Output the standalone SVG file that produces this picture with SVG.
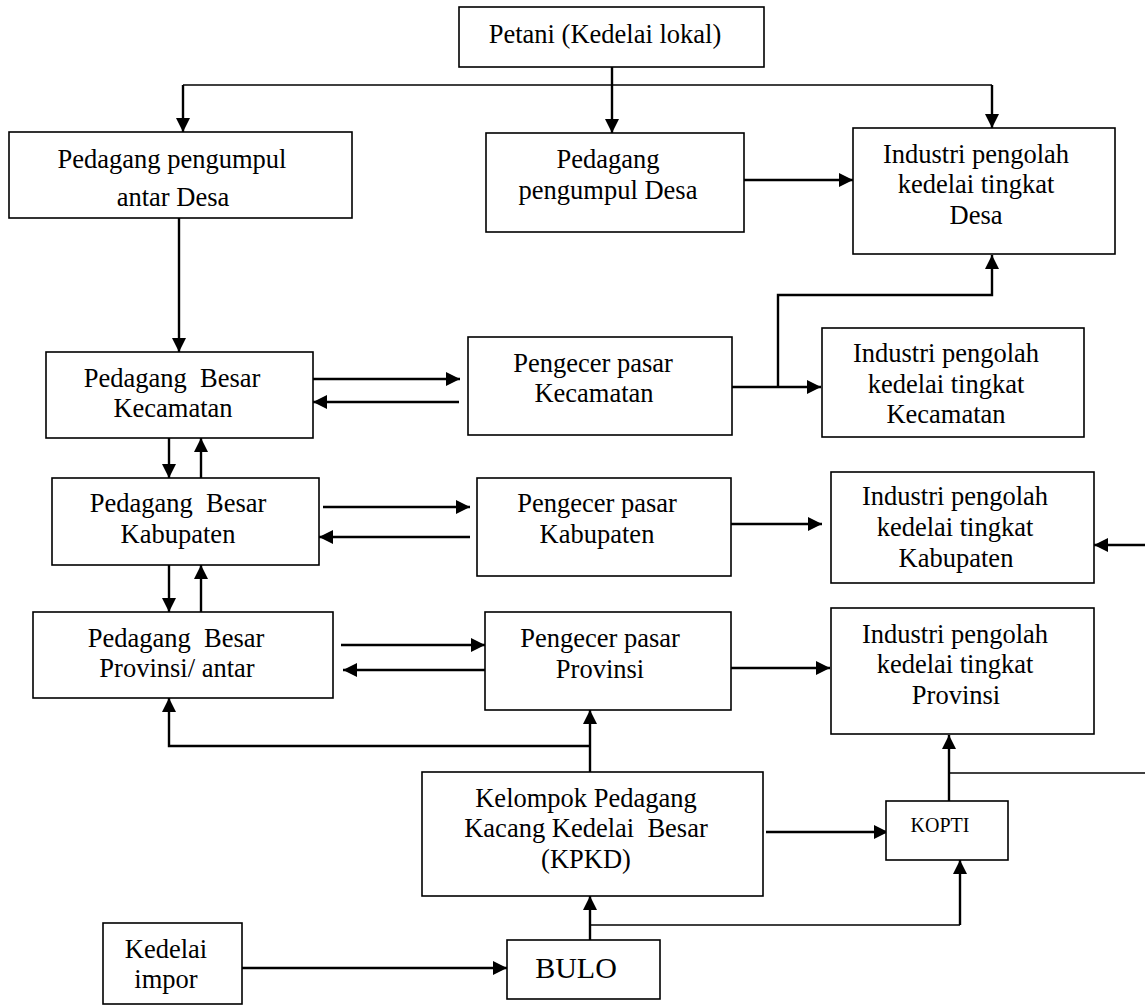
<svg xmlns="http://www.w3.org/2000/svg" width="1145" height="1005" viewBox="0 0 1145 1005">
<style>
.box{fill:#fff;stroke:#000;stroke-width:1.6}
.t{font-family:"Liberation Serif","Times New Roman",serif;font-size:26.5px;fill:#000;text-anchor:middle;white-space:pre}
.c{fill:none;stroke:#000;stroke-width:2.4}
.c1{fill:none;stroke:#000;stroke-width:1.7}
.a{marker-end:url(#ah)}
</style>
<defs>
<marker id="ah" markerUnits="userSpaceOnUse" markerWidth="15" markerHeight="14" refX="14" refY="7" orient="auto" viewBox="0 0 15 14">
<path d="M0,0 L14,7 L0,14 z" fill="#000"/>
</marker>
</defs>
<rect width="1145" height="1005" fill="#fff"/>
<g id="connectors">
<path class="c a" d="M612,62 V133"/>
<path class="c1" d="M183,85 H992"/>
<path class="c a" d="M183,85 V132"/>
<path class="c a" d="M992,85 V128"/>
<path class="c a" d="M744,180 H853"/>
<path class="c a" d="M179,218 V352"/>
<path class="c a" d="M313,379 H460"/>
<path class="c a" d="M459,402 H313"/>
<path class="c a" d="M732,387 H821"/>
<path class="c a" d="M778,387 V295 H992 V255"/>
<path class="c a" d="M169,438 V478"/>
<path class="c a" d="M201,478 V438"/>
<path class="c a" d="M323,507 H470"/>
<path class="c a" d="M470,537 H319"/>
<path class="c a" d="M731,524 H822"/>
<path class="c a" d="M1145,545 H1094"/>
<path class="c a" d="M169,562 V612"/>
<path class="c a" d="M201,612 V565"/>
<path class="c a" d="M341,645 H485"/>
<path class="c a" d="M485,670 H343"/>
<path class="c a" d="M731,668 H830"/>
<path class="c a" d="M590,772 V710"/>
<path class="c a" d="M590,746 H169 V698"/>
<path class="c a" d="M766,832 H888"/>
<path class="c a" d="M949,801 V735"/>
<path class="c1" d="M949,773 H1145"/>
<path class="c a" d="M590,940 V896"/>
<path class="c1" d="M590,925 H960"/>
<path class="c a" d="M960,925 V860"/>
<path class="c a" d="M242,968 H507"/>
</g>
<g id="petani">
<rect class="box" x="459" y="7" width="305" height="60"/>
<text class="t" x="605" y="43">Petani (Kedelai lokal)</text>
</g>
<g id="pengumpul-antar-desa">
<rect class="box" x="9" y="132" width="343" height="86"/>
<text class="t" x="172" y="168">Pedagang pengumpul</text>
<text class="t" x="173" y="206">antar Desa</text>
</g>
<g id="pengumpul-desa">
<rect class="box" x="486" y="133" width="258" height="99"/>
<text class="t" x="608" y="168">Pedagang</text>
<text class="t" x="608" y="199">pengumpul Desa</text>
</g>
<g id="industri-desa">
<rect class="box" x="853" y="128" width="262" height="126"/>
<text class="t" x="976" y="163">Industri pengolah</text>
<text class="t" x="976" y="193">kedelai tingkat</text>
<text class="t" x="976" y="224">Desa</text>
</g>
<g id="besar-kecamatan">
<rect class="box" x="46" y="352" width="267" height="86"/>
<text class="t" x="172" y="387">Pedagang  Besar</text>
<text class="t" x="173" y="417">Kecamatan</text>
</g>
<g id="pengecer-kecamatan">
<rect class="box" x="468" y="337" width="264" height="98"/>
<text class="t" x="593" y="372">Pengecer pasar</text>
<text class="t" x="594" y="402">Kecamatan</text>
</g>
<g id="industri-kecamatan">
<rect class="box" x="822" y="328" width="262" height="109"/>
<text class="t" x="946" y="362">Industri pengolah</text>
<text class="t" x="946" y="393">kedelai tingkat</text>
<text class="t" x="946" y="423">Kecamatan</text>
</g>
<g id="besar-kabupaten">
<rect class="box" x="52" y="478" width="267" height="87"/>
<text class="t" x="178" y="512">Pedagang  Besar</text>
<text class="t" x="178" y="543">Kabupaten</text>
</g>
<g id="pengecer-kabupaten">
<rect class="box" x="477" y="478" width="254" height="98"/>
<text class="t" x="597" y="512">Pengecer pasar</text>
<text class="t" x="597" y="543">Kabupaten</text>
</g>
<g id="industri-kabupaten">
<rect class="box" x="831" y="472" width="263" height="111"/>
<text class="t" x="955" y="505">Industri pengolah</text>
<text class="t" x="955" y="536">kedelai tingkat</text>
<text class="t" x="956" y="567">Kabupaten</text>
</g>
<g id="besar-provinsi">
<rect class="box" x="33" y="612" width="300" height="86"/>
<text class="t" x="176" y="647">Pedagang  Besar</text>
<text class="t" x="177" y="677">Provinsi/ antar</text>
</g>
<g id="pengecer-provinsi">
<rect class="box" x="485" y="612" width="246" height="98"/>
<text class="t" x="600" y="647">Pengecer pasar</text>
<text class="t" x="600" y="678">Provinsi</text>
</g>
<g id="industri-provinsi">
<rect class="box" x="831" y="608" width="263" height="126"/>
<text class="t" x="955" y="643">Industri pengolah</text>
<text class="t" x="955" y="673">kedelai tingkat</text>
<text class="t" x="956" y="704">Provinsi</text>
</g>
<g id="kpkd">
<rect class="box" x="422" y="772" width="341" height="124"/>
<text class="t" x="586" y="807">Kelompok Pedagang</text>
<text class="t" x="586" y="837">Kacang Kedelai  Besar</text>
<text class="t" x="586" y="868">(KPKD)</text>
</g>
<g id="kopti">
<rect class="box" x="886" y="801" width="122" height="59"/>
<text class="t" x="940" y="832" style="font-size:20px">KOPTI</text>
</g>
<g id="bulo">
<rect class="box" x="507" y="940" width="153" height="59"/>
<text class="t" x="576" y="978" style="font-size:30px">BULO</text>
</g>
<g id="kedelai-impor">
<rect class="box" x="103" y="923" width="139" height="81"/>
<text class="t" x="166" y="958">Kedelai</text>
<text class="t" x="166" y="988">impor</text>
</g>
</svg>
